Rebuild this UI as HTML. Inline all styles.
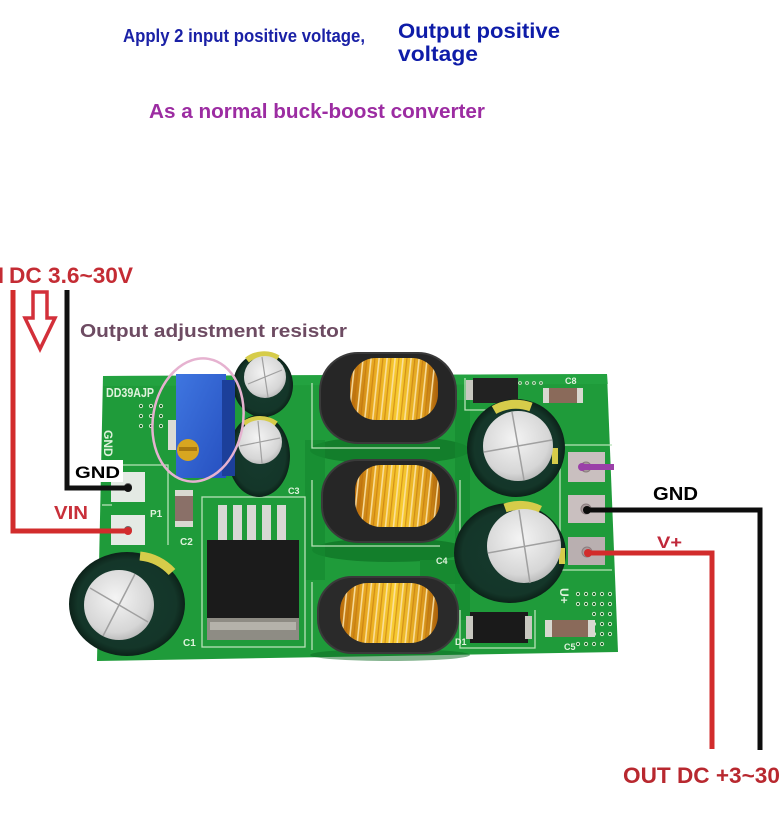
<!DOCTYPE html>
<html><head><meta charset="utf-8"><style>
html,body{margin:0;padding:0;background:#fff;}
svg{display:block;}
text{font-family:"Liberation Sans",sans-serif;font-weight:bold;}
</style></head><body>
<svg width="780" height="825" viewBox="0 0 780 825" xmlns="http://www.w3.org/2000/svg">
<defs>
<linearGradient id="gold" x1="0" y1="0" x2="1" y2="0">
<stop offset="0" stop-color="#b86c0c"/><stop offset="0.25" stop-color="#e8a820"/><stop offset="0.55" stop-color="#f8cc30"/><stop offset="0.85" stop-color="#dc9a1c"/><stop offset="1" stop-color="#a8600a"/>
</linearGradient>
<pattern id="wind" width="8" height="20" patternUnits="userSpaceOnUse" patternTransform="skewX(-6)">
<rect x="0" y="0" width="1.6" height="20" fill="#fbe2a8"/><rect x="4" y="0" width="1.2" height="20" fill="#b8680e" opacity="0.6"/>
</pattern>
<radialGradient id="silver" cx="0.45" cy="0.4" r="0.7">
<stop offset="0" stop-color="#f4f4f4"/><stop offset="0.7" stop-color="#d6d6d6"/><stop offset="1" stop-color="#a8a8a8"/>
</radialGradient>
<radialGradient id="capb" cx="0.5" cy="0.5" r="0.5">
<stop offset="0" stop-color="#163a2e"/><stop offset="0.85" stop-color="#143629"/><stop offset="1" stop-color="#0c2219"/>
</radialGradient>
<linearGradient id="blue" x1="0" y1="0" x2="1" y2="1">
<stop offset="0" stop-color="#3f76e0"/><stop offset="1" stop-color="#2650c0"/>
</linearGradient>
</defs>
<rect width="780" height="825" fill="#fff"/>

<!-- top texts -->
<text x="123" y="42" font-size="18" fill="#1a21a6" textLength="242" lengthAdjust="spacingAndGlyphs">Apply 2 input positive voltage,</text>
<text x="398" y="38" font-size="21" fill="#0e1ca8" textLength="162" lengthAdjust="spacingAndGlyphs">Output positive</text>
<text x="398" y="61" font-size="21" fill="#0e1ca8" textLength="80" lengthAdjust="spacingAndGlyphs">voltage</text>
<text x="149" y="118" font-size="20" fill="#9c2ca2" textLength="336" lengthAdjust="spacingAndGlyphs">As a normal buck-boost converter</text>

<!-- left top labels -->
<text x="4" y="283" font-size="22" fill="#c42c34" text-anchor="end">IN</text>
<text x="9" y="283" font-size="22" fill="#c42c34" textLength="124" lengthAdjust="spacingAndGlyphs">DC 3.6~30V</text>
<text x="80" y="337" font-size="18" fill="#6d4b62" textLength="267" lengthAdjust="spacingAndGlyphs">Output adjustment resistor</text>
<polygon points="33,292 47,292 47,318 55,318 40,349 25,318 33,318" fill="none" stroke="#d3303a" stroke-width="3.5" stroke-linejoin="miter"/>

<!-- board -->
<polygon points="103,376 607,374 618,652 97,661" fill="#1f9b3a"/>
<polygon points="103,376 607,374 608,384 103,386" fill="#27a645" opacity="0.6"/>
<!-- shadows -->
<ellipse cx="390" cy="450" rx="80" ry="14" fill="#0c6a22" opacity="0.6"/>
<ellipse cx="390" cy="550" rx="78" ry="12" fill="#0c6a22" opacity="0.6"/>
<ellipse cx="390" cy="655" rx="80" ry="6" fill="#0c6a22" opacity="0.5"/>
<rect x="420" y="560" width="40" height="24" fill="#178a30"/>
<rect x="305" y="440" width="20" height="140" fill="#168a30" opacity="0.7"/>
<rect x="455" y="400" width="15" height="220" fill="#168a30" opacity="0.7"/>

<!-- silkscreen -->
<g fill="none" stroke="#b8e2b8" stroke-width="1.3">
<path d="M102,465 H168 V545"/>
<path d="M102,505 H112"/>
<rect x="202" y="497" width="103" height="150"/>
<path d="M312,383 V448 H440"/>
<path d="M312,480 V546 H440"/>
<path d="M312,582 V650"/>
<path d="M460,480 V560"/>
<path d="M560,445 V570 H612"/>
<path d="M560,445 H612"/>
<path d="M460,610 V648 H535 V610"/>
<path d="M465,378 V410 H525"/>
</g>
<!-- left pads -->
<rect x="111" y="472" width="34" height="30" fill="#e4eae4"/>
<rect x="111" y="515" width="34" height="30" fill="#e4eae4"/>
<circle cx="128" cy="487" r="4" fill="#6b6b6b"/>
<circle cx="128" cy="530" r="4" fill="#6b6b6b"/>
<text x="106" y="397" font-size="13" fill="#dff2dc" textLength="48" lengthAdjust="spacingAndGlyphs">DD39AJP</text>
<text transform="translate(104,430) rotate(90)" font-size="12" fill="#dff2dc">GND</text>
<text x="150" y="517" font-size="10" fill="#dff2dc">P1</text>
<text x="180" y="545" font-size="10" fill="#dff2dc">C2</text>
<text x="183" y="646" font-size="10" fill="#dff2dc">C1</text>
<text x="288" y="494" font-size="9" fill="#dff2dc">C3</text>
<text x="436" y="564" font-size="9" fill="#dff2dc">C4</text>
<text x="565" y="384" font-size="9" fill="#dff2dc">C8</text>
<text x="564" y="650" font-size="9" fill="#dff2dc">C5</text>
<text x="455" y="645" font-size="9" fill="#dff2dc">D1</text>
<text transform="translate(560,588) rotate(90)" font-size="12" fill="#dff2dc">U+</text>
<text transform="translate(578,470) rotate(90)" font-size="8" fill="#dff2dc">P2</text>
<!-- dot grids -->
<g fill="#0b5a1c" stroke="#cfe8c8" stroke-width="1">
<circle cx="141" cy="406" r="1.6"/><circle cx="151" cy="406" r="1.6"/><circle cx="161" cy="406" r="1.6"/>
<circle cx="141" cy="416" r="1.6"/><circle cx="151" cy="416" r="1.6"/><circle cx="161" cy="416" r="1.6"/>
<circle cx="141" cy="426" r="1.6"/><circle cx="151" cy="426" r="1.6"/><circle cx="161" cy="426" r="1.6"/>
<circle cx="578" cy="594" r="1.6"/><circle cx="586" cy="594" r="1.6"/><circle cx="594" cy="594" r="1.6"/><circle cx="602" cy="594" r="1.6"/><circle cx="610" cy="594" r="1.6"/>
<circle cx="578" cy="604" r="1.6"/><circle cx="586" cy="604" r="1.6"/><circle cx="594" cy="604" r="1.6"/><circle cx="602" cy="604" r="1.6"/><circle cx="610" cy="604" r="1.6"/>
<circle cx="594" cy="614" r="1.6"/><circle cx="602" cy="614" r="1.6"/><circle cx="610" cy="614" r="1.6"/>
<circle cx="594" cy="624" r="1.6"/><circle cx="602" cy="624" r="1.6"/><circle cx="610" cy="624" r="1.6"/>
<circle cx="594" cy="634" r="1.6"/><circle cx="602" cy="634" r="1.6"/><circle cx="610" cy="634" r="1.6"/>
<circle cx="578" cy="644" r="1.6"/><circle cx="586" cy="644" r="1.6"/><circle cx="594" cy="644" r="1.6"/><circle cx="602" cy="644" r="1.6"/>
<circle cx="520" cy="383" r="1.4"/><circle cx="527" cy="383" r="1.4"/><circle cx="534" cy="383" r="1.4"/><circle cx="541" cy="383" r="1.4"/>
</g>
<!-- right pads -->
<rect x="568" y="452" width="37" height="30" fill="#c9bfbf"/>
<rect x="568" y="495" width="37" height="28" fill="#c9bfbf"/>
<rect x="568" y="537" width="37" height="28" fill="#b9afb0"/>
<circle cx="586" cy="467" r="5" fill="#a89a9c" stroke="#8a7c7e"/>
<circle cx="586" cy="509" r="5" fill="#a89a9c" stroke="#8a7c7e"/>
<circle cx="587" cy="552" r="5" fill="#a89a9c" stroke="#8a7c7e"/>

<!-- SMD parts -->
<rect x="175" y="490" width="18" height="37" rx="2" fill="#8a7068"/>
<rect x="175" y="490" width="18" height="6" fill="#d8d8d0"/>
<rect x="175" y="521" width="18" height="6" fill="#d8d8d0"/>
<rect x="473" y="378" width="45" height="25" fill="#222"/>
<rect x="466" y="380" width="7" height="20" fill="#c8c8c0"/>
<rect x="548" y="388" width="30" height="15" fill="#8a6a5a"/>
<rect x="543" y="388" width="6" height="15" fill="#d8d8d0"/><rect x="577" y="388" width="6" height="15" fill="#d8d8d0"/>
<rect x="470" y="612" width="58" height="31" fill="#1a1a1a"/>
<rect x="466" y="616" width="7" height="23" fill="#c8c8c0"/><rect x="525" y="616" width="7" height="23" fill="#c8c8c0"/>
<rect x="550" y="620" width="40" height="17" fill="#8a6a5a"/>
<rect x="545" y="620" width="7" height="17" fill="#d8d8d0"/><rect x="588" y="620" width="7" height="17" fill="#d8d8d0"/>

<!-- IC -->
<g fill="#d8d8d4">
<rect x="218" y="505" width="9" height="38"/><rect x="233" y="505" width="9" height="38"/><rect x="247" y="505" width="9" height="38"/><rect x="262" y="505" width="9" height="38"/><rect x="277" y="505" width="9" height="38"/>
</g>
<rect x="207" y="540" width="92" height="82" fill="#1b1b1b"/>
<rect x="207" y="618" width="92" height="22" fill="#8e8c84"/>
<rect x="210" y="622" width="86" height="8" fill="#b4b2aa"/>

<!-- inductors -->
<rect x="320" y="353" width="136" height="90" rx="38" fill="#262626" stroke="#3a3a3a" stroke-width="2"/>
<rect x="350" y="358" width="88" height="62" rx="26" fill="url(#gold)"/>
<rect x="350" y="358" width="88" height="62" rx="26" fill="url(#wind)" opacity="0.9"/>
<rect x="322" y="460" width="134" height="82" rx="36" fill="#262626" stroke="#3a3a3a" stroke-width="2"/>
<rect x="355" y="465" width="85" height="62" rx="26" fill="url(#gold)"/>
<rect x="355" y="465" width="85" height="62" rx="26" fill="url(#wind)" opacity="0.9"/>
<rect x="318" y="577" width="140" height="76" rx="34" fill="#2a2a2a" stroke="#3a3a3a" stroke-width="2"/>
<rect x="340" y="583" width="98" height="60" rx="28" fill="url(#gold)"/>
<rect x="340" y="583" width="98" height="60" rx="28" fill="url(#wind)" opacity="0.9"/>

<!-- capacitors -->
<!-- C1 -->
<ellipse cx="127" cy="604" rx="58" ry="52" fill="url(#capb)"/>
<path d="M140,556 A50,50 0 0,1 172,572" fill="none" stroke="#d6cc4a" stroke-width="9"/>
<circle cx="119" cy="605" r="35" fill="url(#silver)"/>
<path d="M90,588 L148,622 M103,636 L135,574" stroke="#a0a0a0" stroke-width="1.5"/>
<!-- top small caps -->
<ellipse cx="263" cy="385" rx="30" ry="32" fill="url(#capb)"/>
<path d="M247,360 A28,28 0 0,1 278,358" fill="none" stroke="#d6cc4a" stroke-width="6"/>
<circle cx="265" cy="377" r="21" fill="url(#silver)"/>
<path d="M248,384 L282,370 M262,357 L268,397" stroke="#a0a0a0" stroke-width="1.2"/>
<ellipse cx="259" cy="456" rx="31" ry="41" fill="url(#capb)"/>
<path d="M244,424 A28,28 0 0,1 276,424" fill="none" stroke="#d6cc4a" stroke-width="6"/>
<circle cx="260" cy="442" r="22" fill="url(#silver)"/>
<path d="M240,446 L280,438 M258,421 L262,463" stroke="#a0a0a0" stroke-width="1.2"/>
<!-- right caps -->
<circle cx="516" cy="448" r="49" fill="url(#capb)"/>
<path d="M494,410 A44,44 0 0,1 531,407" fill="none" stroke="#d6cc4a" stroke-width="9"/>
<rect x="552" y="448" width="6" height="16" fill="#d6cc4a"/>
<circle cx="518" cy="446" r="35" fill="url(#silver)"/>
<path d="M484,452 L552,440 M512,412 L524,480" stroke="#a0a0a0" stroke-width="1.5"/>
<ellipse cx="510" cy="553" rx="56" ry="50" fill="url(#capb)"/>
<path d="M505,508 A45,45 0 0,1 540,510" fill="none" stroke="#d6cc4a" stroke-width="9"/>
<rect x="559" y="548" width="6" height="16" fill="#d6cc4a"/>
<circle cx="524" cy="546" r="37" fill="url(#silver)"/>
<path d="M488,553 L560,540 M519,510 L530,583" stroke="#a0a0a0" stroke-width="1.5"/>

<!-- potentiometer -->
<rect x="176" y="374" width="50" height="104" fill="url(#blue)"/>
<rect x="222" y="380" width="13" height="96" fill="#1c3f9a"/>
<rect x="168" y="420" width="8" height="30" fill="#dcdcd4"/>
<circle cx="188" cy="450" r="11" fill="#d8a620"/>
<rect x="179" y="447" width="18" height="4" fill="#a87810"/>
<ellipse cx="198" cy="420" rx="45" ry="62" fill="none" stroke="#e6b2d0" stroke-width="2.5" transform="rotate(10 198 420)"/>

<!-- wires -->
<polyline points="13,290 13,531 130,531" fill="none" stroke="#d22c2c" stroke-width="5"/>
<polyline points="67,290 67,488 130,488" fill="none" stroke="#111" stroke-width="5"/>
<circle cx="128" cy="531" r="4" fill="#d22c2c"/>
<circle cx="128" cy="488" r="4" fill="#111"/>
<polyline points="587,510 760,510 760,750" fill="none" stroke="#0c0c0c" stroke-width="5"/>
<polyline points="588,553 712,553 712,749" fill="none" stroke="#d22c2c" stroke-width="5"/>
<circle cx="587" cy="510" r="4" fill="#0c0c0c"/>
<circle cx="588" cy="553" r="4" fill="#d22c2c"/>
<line x1="581" y1="467" x2="614" y2="467" stroke="#9a40a8" stroke-width="6"/>
<circle cx="582" cy="467" r="4" fill="#9a40a8"/>

<!-- wire labels -->
<rect x="72" y="460" width="51" height="22" fill="#fff"/>
<text x="75" y="478" font-size="17" fill="#000" textLength="45" lengthAdjust="spacingAndGlyphs">GND</text>
<text x="54" y="519" font-size="18" fill="#c8303a" textLength="34" lengthAdjust="spacingAndGlyphs">VIN</text>
<text x="653" y="500" font-size="18" fill="#000" textLength="45" lengthAdjust="spacingAndGlyphs">GND</text>
<text x="657" y="548" font-size="17" fill="#c0283a" textLength="25" lengthAdjust="spacingAndGlyphs">V+</text>
<text x="623" y="783" font-size="22" fill="#b8282f" textLength="172" lengthAdjust="spacingAndGlyphs">OUT DC +3~30V</text>
</svg>
</body></html>
